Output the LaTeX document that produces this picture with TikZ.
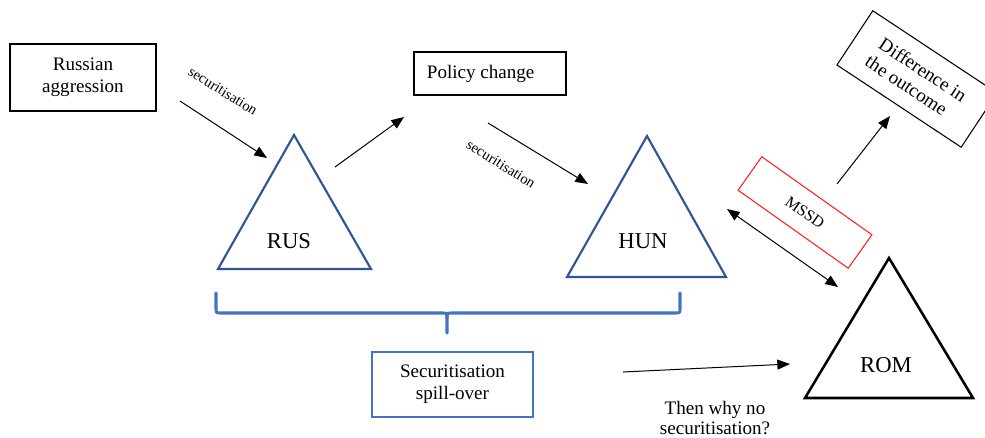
\documentclass[tikz,border=0pt]{standalone}
\usepackage{fontspec}
\setmainfont{Liberation Serif}
\usetikzlibrary{arrows.meta}
\definecolor{tri}{HTML}{2F5597}
\definecolor{brc}{HTML}{4472C4}
\definecolor{msd}{HTML}{FF2020}
\tikzset{
  box/.style={draw=black, line width=0.8pt, align=center, inner sep=0pt, font=\fontsize{14.3}{16.5}\selectfont},
  lbl/.style={font=\fontsize{14.3}{15}\selectfont, align=center, inner sep=0pt},
  small/.style={font=\fontsize{11}{12}\selectfont, inner sep=0pt},
  tritext/.style={font=\fontsize{17}{20}\selectfont, inner sep=0pt},
  conn/.style={line width=0.75pt, -{Triangle[length=9.5pt,width=7.5pt]}},
  dconn/.style={line width=0.75pt, {Triangle[length=9.5pt,width=7.5pt]}-{Triangle[length=9.5pt,width=7.5pt]}},
  bluetri/.style={draw=tri, line width=1.6pt, line join=miter},
  blacktri/.style={draw=black, line width=1.9pt, line join=miter},
}
\begin{document}
\begin{tikzpicture}[x=0.75pt,y=-0.75pt]
\useasboundingbox (0,0) rectangle (985,438);
% boxes
\node[box, minimum width=146*0.75pt, minimum height=67*0.75pt] (russ) at (83,77.5) {Russian\\aggression};
\node[box, minimum width=152*0.75pt, minimum height=43*0.75pt] (policy) at (490,73.5) {Policy change\hspace*{14pt}};
\node[box, draw=brc, minimum width=161*0.75pt, minimum height=65*0.75pt] (spill) at (452.5,384.5) {Securitisation\\spill-over};
\node[box, draw=msd, rotate=-35.3, minimum width=135*0.75pt, minimum height=41*0.75pt] (mssd) at (805,212.5) {\fontsize{12}{14}\selectfont MSSD};
\node[box, rotate=-33.5, minimum width=149*0.75pt, minimum height=65*0.75pt] (diff) at (917,79) {Difference in\\the outcome\hspace*{8pt}};
% triangles
\coordinate (rusA) at (294,135); \coordinate (rusB) at (218,269); \coordinate (rusC) at (371,269);
\draw[bluetri] (rusA) -- (rusB) -- (rusC) -- cycle;
\node[tritext] (rus) at (289,241.5) {RUS};
\coordinate (hunA) at (647,136); \coordinate (hunB) at (567,277); \coordinate (hunC) at (726,277);
\draw[bluetri] (hunA) -- (hunB) -- (hunC) -- cycle;
\node[tritext] (hun) at (643,241.5) {HUN};
\coordinate (romA) at (889,258); \coordinate (romB) at (805,398); \coordinate (romC) at (973,398);
\draw[blacktri] (romA) -- (romB) -- (romC) -- cycle;
\node[tritext] (rom) at (886,365) {ROM};
% brace
\draw[brc, line width=2.3pt, line cap=round, line join=round]
  (216,293) -- (216,308) .. controls (216,313) .. (221,313) -- (442,313) .. controls (447,313) .. (447,318) -- (447,333);
\draw[brc, line width=2.3pt, line cap=round, line join=round]
  (680,293) -- (680,308) .. controls (680,313) .. (675,313) -- (452,313) .. controls (447,313) .. (447,318);
% arrows
\coordinate (a1s) at (180,101); \coordinate (a1e) at (267,158);
\draw[conn] (a1s) -- (a1e);
\node[small, rotate=-32] (sec1) at (223,91) {securitisation};
\coordinate (a2s) at (335,167); \coordinate (a2e) at (404,117);
\draw[conn] (a2s) -- (a2e);
\coordinate (a3s) at (488,123); \coordinate (a3e) at (588,184);
\draw[conn] (a3s) -- (a3e);
\node[small, rotate=-32] (sec2) at (501,164) {securitisation};
\coordinate (a4s) at (727,209); \coordinate (a4e) at (838,287);
\draw[dconn] (a4s) -- (a4e);
\coordinate (a5s) at (837,184); \coordinate (a5e) at (890,116);
\draw[conn] (a5s) -- (a5e);
\coordinate (a6s) at (623,372); \coordinate (a6e) at (790,364);
\draw[conn] (a6s) -- (a6e);
\node[lbl] (why) at (715,418) {Then why no\\securitisation?};
\end{tikzpicture}
\end{document}
